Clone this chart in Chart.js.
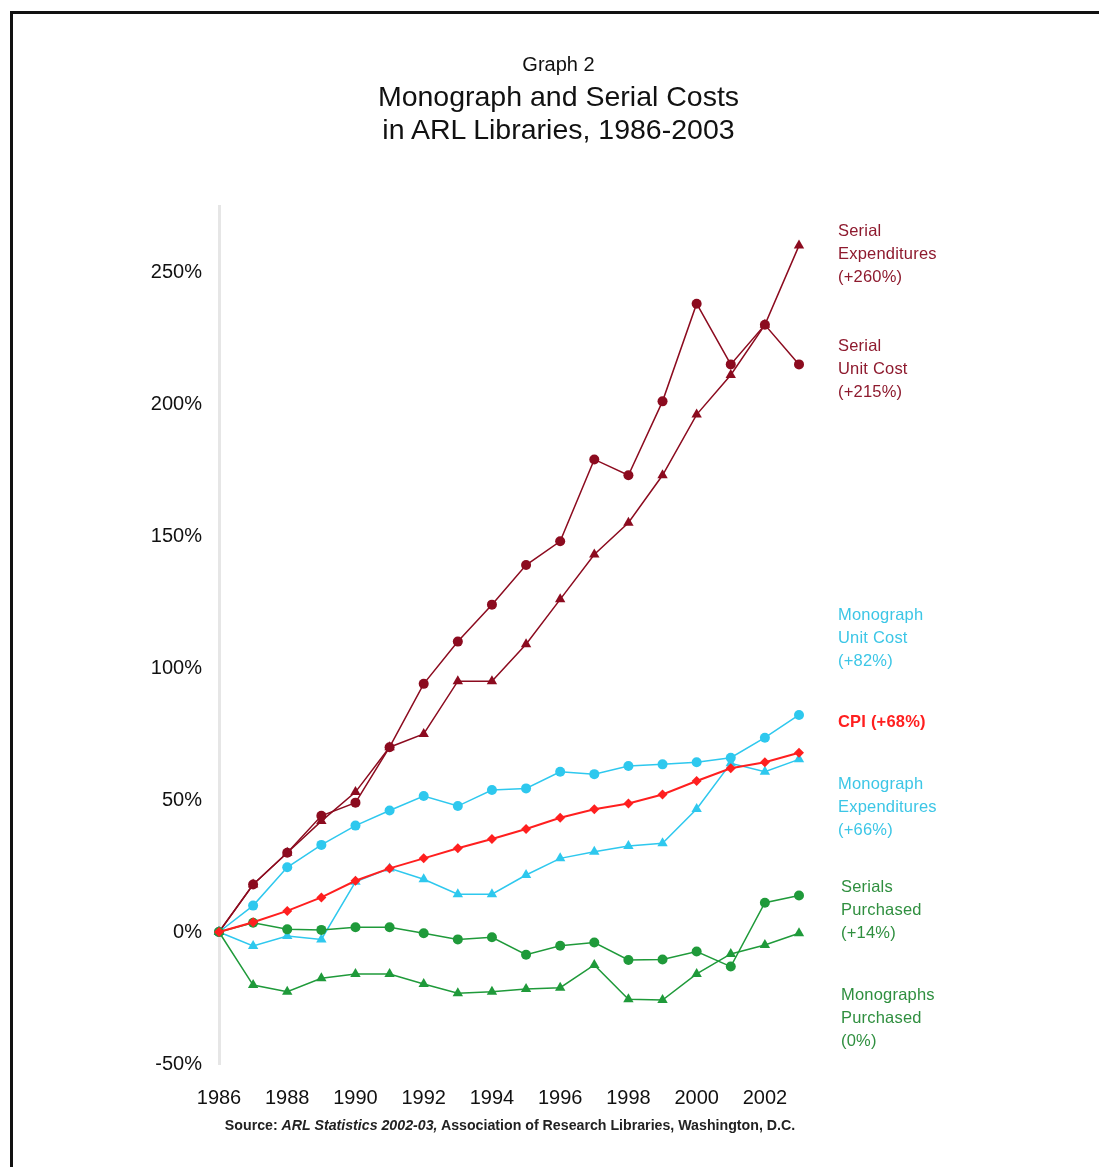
<!DOCTYPE html>
<html>
<head>
<meta charset="utf-8">
<script src="https://cdn.jsdelivr.net/npm/chart.js@4/dist/chart.umd.min.js"></script>
<style>
  html,body{margin:0;padding:0;background:#fff;}
  body{width:1099px;height:1167px;position:relative;overflow:hidden;font-family:"Liberation Sans",Arial,sans-serif;}
  #frame{position:absolute;left:10px;top:11px;width:1200px;height:1300px;border-top:3px solid #111;border-left:3px solid #111;}
  #wrap{position:absolute;left:0;top:0;width:1099px;height:1167px;}
  .t{position:absolute;left:0;width:1117px;text-align:center;color:#111;}
  .lab{position:absolute;font-size:16.5px;line-height:23px;letter-spacing:0.2px;}
  #src{position:absolute;left:200px;width:620px;top:1117px;text-align:center;font-size:14.2px;font-weight:bold;color:#222;}
</style>
</head>
<body>
<div id="frame"></div>
<div id="wrap"><canvas id="c" width="1099" height="1167"></canvas></div>
<div class="t" style="top:53px;font-size:20px;">Graph 2</div>
<div class="t" style="top:80px;font-size:28.5px;line-height:33px;">Monograph and Serial Costs<br>in ARL Libraries, 1986-2003</div>
<div id="labels"></div>
<div id="src">Source: <i>ARL Statistics 2002-03,</i> Association of Research Libraries, Washington, D.C.</div>
<script>
/* ---------------- data ---------------- */
const years = [1986,1987,1988,1989,1990,1991,1992,1993,1994,1995,1996,1997,1998,1999,2000,2001,2002,2003];

const serialExp     = [0,18,30,42,53,70,75,95,95,109,126,143,155,173,196,211,230,260];
const serialUnit    = [0,18,30,44,49,70,94,110,124,139,148,179,173,201,238,215,230,215];
const monoUnit      = [0,10,24.5,33,40.3,46,51.5,47.7,53.8,54.4,60.7,59.8,62.9,63.5,64.3,66,73.6,82.2];
const cpi           = [0,3.7,8,13.1,19.4,24.1,27.9,31.7,35.2,39,43.3,46.5,48.7,52.1,57.2,62,64.3,67.9];
const monoExp       = [0,-5.3,-1.5,-2.8,19,24.1,20,14.3,14.3,21.6,27.9,30.4,32.6,33.6,46.6,63.9,60.7,65.4];
const serialsPurch  = [0,3.5,1,0.8,1.8,1.8,-0.5,-2.8,-2,-8.6,-5.2,-4,-10.6,-10.4,-7.4,-13.1,11.1,13.8];
const monosPurch    = [0,-20.1,-22.6,-17.5,-15.9,-15.9,-19.7,-23.2,-22.6,-21.6,-21.1,-12.5,-25.5,-25.8,-15.9,-8.3,-4.9,-0.5];

const yTicks = [-50,0,50,100,150,200,250];
const xTicks = [1986,1988,1990,1992,1994,1996,1998,2000,2002];

/* ---------------- colours ---------------- */
const DARKRED = '#8c0b1f';
const CYAN    = '#2ec8ee';
const RED     = '#ff1f1f';
const GREEN   = '#1f9a3a';

/* right-hand labels */
const labels = [
  {top:219, left:838, color:'#8e1a2e', text:'Serial<br>Expenditures<br>(+260%)'},
  {top:334, left:838, color:'#8e1a2e', text:'Serial<br>Unit Cost<br>(+215%)'},
  {top:603, left:838, color:'#3cc6e6', text:'Monograph<br>Unit Cost<br>(+82%)'},
  {top:710, left:838, color:RED, text:'<b>CPI (+68%)</b>'},
  {top:772, left:838, color:'#3cc6e6', text:'Monograph<br>Expenditures<br>(+66%)'},
  {top:875, left:841, color:'#2f8f3f', text:'Serials<br>Purchased<br>(+14%)'},
  {top:983, left:841, color:'#2f8f3f', text:'Monographs<br>Purchased<br>(0%)'},
];
document.getElementById('labels').innerHTML = labels.map(l=>
  `<div class="lab" style="top:${l.top}px;left:${l.left}px;color:${l.color}">${l.text}</div>`).join('');

/* ---------------- chart ---------------- */
const pts = arr => arr.map((v,i)=>({x:years[i], y:v}));
function ds(data,color,style,r,w){
  return {data:pts(data), borderColor:color, backgroundColor:color, pointStyle:style,
          pointRadius:r, pointBorderWidth:0, borderWidth:w, tension:0, clip:false};
}

new Chart(document.getElementById('c'),{
  type:'line',
  data:{datasets:[
    ds(cpi,RED,'rectRot',5,2),
    ds(serialsPurch,GREEN,'circle',5,1.5),
    ds(monosPurch,GREEN,'triangle',6,1.5),
    ds(monoUnit,CYAN,'circle',5,1.5),
    ds(monoExp,CYAN,'triangle',6,1.5),
    ds(serialUnit,DARKRED,'circle',5,1.5),
    ds(serialExp,DARKRED,'triangle',6,1.5),
  ]},
  options:{
    responsive:false, animation:false,
    layout:{padding:{left:219-90, top:206, right:1099-799, bottom:1167-1064-50}},
    plugins:{legend:{display:false}, tooltip:{enabled:false}},
    scales:{
      x:{type:'linear', min:1986, max:2003,
         afterBuildTicks:s=>{s.ticks = xTicks.map(v=>({value:v}));},
         afterFit:s=>{s.height = 50;},
         grid:{display:false, drawTicks:false},
         border:{display:false},
         ticks:{color:'#111', padding:22, maxRotation:0, autoSkip:false, callback:v=>String(v),
                font:{family:'"Liberation Sans", Arial', size:20}}},
      y:{min:-50, max:275,
         afterBuildTicks:s=>{s.ticks = yTicks.map(v=>({value:v}));},
         afterFit:s=>{s.width = 90;},
         grid:{display:false, drawTicks:false},
         border:{display:true, color:'#e6e6e6', width:3},
         ticks:{color:'#111', padding:17, callback:v=>v+'%',
                font:{family:'"Liberation Sans", Arial', size:20}}}
    }
  }
});
</script>
</body>
</html>
